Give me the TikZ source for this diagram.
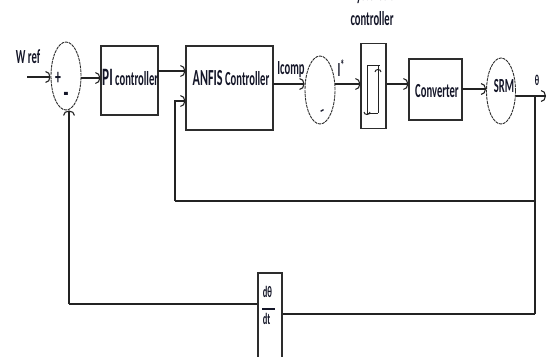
\documentclass[tikz,border=0pt]{standalone}
\usepackage{graphicx}
\usepackage{fontspec}
\setmainfont{Carlito}
\usetikzlibrary{arrows.meta,shapes.geometric}
\definecolor{wire}{RGB}{35,35,35}
\definecolor{rim}{RGB}{45,45,45}
\definecolor{ink}{RGB}{20,22,40}
\newcommand{\narrow}[1]{\scalebox{0.53}[1]{#1}}
\newcommand{\bigsize}{\fontsize{20}{22}\selectfont}

\begin{document}
\begin{tikzpicture}[x=1pt, y=-1pt,
  block/.style={draw=rim, line width=1.3pt, inner sep=0pt},
  sumnode/.style={ellipse, draw=rim, line width=0.9pt, dash pattern=on 3pt off 0.8pt,
                  minimum width=30pt, minimum height=68pt, inner sep=0pt},
  lbl/.style={font=\bfseries\bigsize, text=ink, inner sep=0pt},
  wire/.style={line width=1.2pt, draw=wire},
  arr/.style={wire, -{Arc Barb[length=5pt, width=12pt, line width=1.1pt]}}]
\useasboundingbox (0,0) rectangle (548,356);
% forward path
\node[sumnode] (sumA) at (66,76) {};
\node[block, minimum width=57pt, minimum height=69pt] (pi) at (129.5,80.5) {};
\node[lbl, anchor=west] (pitxt) at (102,77.5)
  {\narrow{{\fontsize{25}{25}\selectfont PI} controller}};
\node[block, minimum width=87pt, minimum height=84pt] (anfis) at (229.5,88) {};
\node[lbl] (anfistxt) at (231,78) {\narrow{{\fontsize{23}{23}\selectfont ANFIS} Controller}};
\node[sumnode] (sumB) at (320,90) {};
\node[block, minimum width=25pt, minimum height=85pt] (hyst) at (373.5,86) {};
\node[block, minimum width=53pt, minimum height=61pt] (conv) at (435.5,89.5) {};
\node[lbl] (convtxt) at (437,91) {\narrow{Converter}};
\node[sumnode, minimum width=29pt, minimum height=66pt] (srm) at (501,91) {};
\node[lbl] (srmtxt) at (504,86) {\narrow{SRM}};
\node[block, minimum width=24pt, minimum height=92pt] (deriv) at (270,319) {};
% labels
\node[lbl] (wref) at (28,57) {\narrow{W ref}};
\node[lbl, font=\bfseries\fontsize{22}{22}\selectfont] (plusA) at (58,78) {\narrow{+}};
\node[lbl, font=\bfseries\fontsize{30}{30}\selectfont] (minusA) at (66,97) {\narrow{-}};
\node[lbl, font=\bfseries\fontsize{14}{14}\selectfont, rotate=30] (minusB) at (323,112) {-};
\node[lbl] (icomp) at (291,70) {\narrow{Icomp}};
\node[lbl] (istar) at (341,68) {\narrow{I\raisebox{6pt}{\fontsize{15}{15}\selectfont*}}};
\node[lbl, align=center, anchor=south, font=\bfseries\fontsize{20}{25}\selectfont]
  (hysttxt) at (372,26) {\narrow{Hysteresis}\\\narrow{controller}};
\node[lbl, font=\bfseries\fontsize{15}{15}\selectfont] (theta) at (537,80) {\narrow{θ}};
\node[lbl, font=\bfseries\fontsize{16}{16}\selectfont] (dnum) at (267.5,292) {\narrow{dθ}};
\node[lbl, font=\bfseries\fontsize{16}{16}\selectfont] (dden) at (266.5,319) {\narrow{dt}};
\draw[ink, line width=1.4pt] (262,309) -- (275,309);
% hysteresis loop
\draw[wire, line width=1pt] (367,65) -- (380,65);
\draw[wire, line width=1pt, -{Arc Barb[length=3pt, width=7pt]}] (367,65) -- (367,115);
\draw[wire, line width=1pt] (367,113) -- (378,113);
\draw[wire, line width=1pt] (378,113) -- (378,65);
\draw[wire, line width=1pt, -{Arc Barb[length=3pt, width=7pt]}] (378,82) -- (378,69);
% coordinates
\coordinate (win) at (27,77);
\coordinate (sline) at (81,78);
\coordinate (piout) at (158,71);
\coordinate (iline) at (273,84);
\coordinate (cline) at (462,89);
\coordinate (out) at (546,96);
\coordinate (tap) at (535,96);
\coordinate (fbj) at (535,201);
\coordinate (fbr) at (535,314);
\coordinate (fba) at (175,201);
\coordinate (ain) at (175,101);
\coordinate (fbl) at (69,304);
% connectors
\draw[arr] (win) -- (win -| sumA.west);
\draw[arr] (sline) -- (sline -| pi.west);
\draw[arr] (piout) -- (piout -| anfis.west);
\draw[arr] (iline) -- (iline -| sumB.west);
\draw[arr] (iline -| sumB.east) -- (iline -| hyst.west);
\draw[arr] (iline -| hyst.east) -- (iline -| conv.west);
\draw[arr] (cline) -- (cline -| srm.west);
\draw[arr] (out -| srm.east) -- (out);
% feedback paths
\draw[wire] (tap) -- (fbr);
\draw[wire] (fbr) -- (fbr -| deriv.east);
\draw[wire] (fbj) -- (fba);
\draw[arr] (fba) -- (ain) -- (ain -| anfis.west);
\draw[wire] (fbl -| deriv.west) -- (fbl);
\draw[arr] (fbl) -- (fbl |- sumA.south);
\end{tikzpicture}
\end{document}
